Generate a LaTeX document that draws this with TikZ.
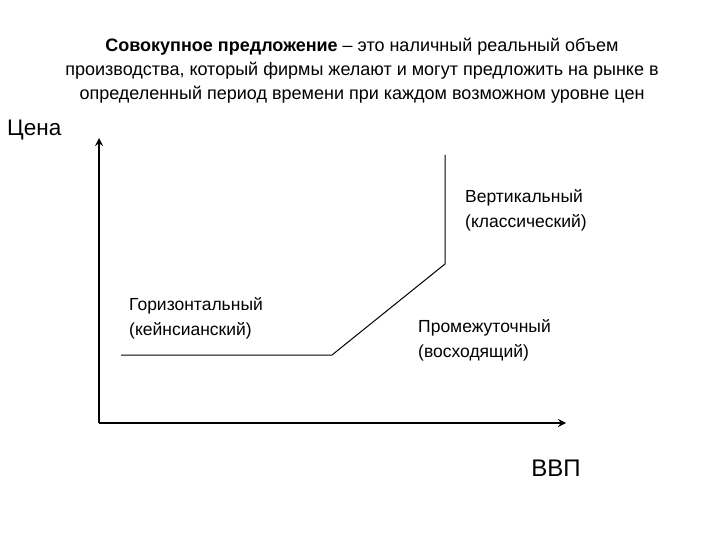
\documentclass[tikz,border=0pt]{standalone}
\usepackage{fontspec}
\setmainfont{Liberation Sans}
\usetikzlibrary{positioning}

\begin{document}
\begin{tikzpicture}[x=1pt,y=-1pt,
  axis/.style={line width=2.5pt,black,-stealth},
  curve/.style={line width=1pt,black},
  lbl/.style={anchor=base west,align=left,inner sep=0pt,font=\fontsize{17.5}{25}\selectfont}]
  \useasboundingbox (0,0) rectangle (720,540);
  \node[align=center,inner sep=0pt,font=\fontsize{18}{24}\selectfont] (title) at (362,71)
    {\textbf{Совокупное предложение} – это наличный реальный объем\\
     производства, который фирмы желают и могут предложить на рынке в\\
     определенный период времени при каждом возможном уровне цен};
  \coordinate (O) at (99,423);
  \coordinate (xend) at (566,423);
  \coordinate (yend) at (99,138);
  \draw[axis](O)--(xend);
  \draw[axis](O)--(yend);
  \node[anchor=base west,inner sep=0pt,font=\fontsize{22.5}{26}\selectfont] (price) at (7,136) {Цена};
  \node[anchor=base,inner sep=0pt,font=\fontsize{24}{26}\selectfont] (gdp) at (556,476) {ВВП};
  \coordinate (k1) at (121,355);
  \coordinate (k2) at (332,355);
  \coordinate (k3) at (445,264);
  \coordinate (k4) at (445,155);
  \draw[curve](k1)--(k2)--(k3)--(k4);
  % anchor base = baseline of the last line
  \node[lbl] (vert) at (465,228) {Вертикальный\\(классический)};
  \node[lbl] (horiz) at (129,335) {Горизонтальный\\(кейнсианский)};
  \node[lbl] (mid) at (418,357) {Промежуточный\\(восходящий)};
\end{tikzpicture}
\end{document}
